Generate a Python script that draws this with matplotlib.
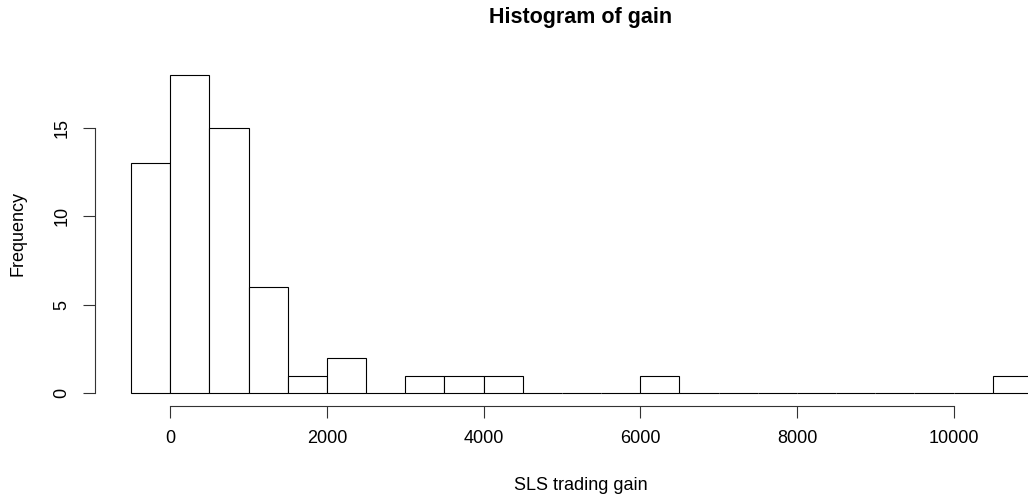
import matplotlib
matplotlib.use("Agg")
import matplotlib.pyplot as plt

# histogram of SLS trading gain, bins of 500
BREAKS = [-500, 0, 500, 1000, 1500, 2000, 2500, 3000, 3500, 4000, 4500,
          5000, 5500, 6000, 6500, 7000, 7500, 8000, 8500, 9000, 9500,
          10000, 10500, 11000]
COUNTS = [13, 18, 15, 6, 1, 2, 0, 1, 1, 1, 0,
          0, 0, 1, 0, 0, 0, 0, 0, 0, 0,
          0, 1]
XTICKS = [0, 2000, 4000, 6000, 8000, 10000]
YTICKS = [0, 5, 10, 15]

plt.rcParams["font.family"] = ["Liberation Sans", "DejaVu Sans"]

W, H = 1028, 501
fig = plt.figure(figsize=(W / 100, H / 100), dpi=100)
fig.patch.set_facecolor("white")

ax = fig.add_axes([95 / W, (H - 406) / H, (1068 - 95) / W, (406 - 62) / H])
ax.set_facecolor("none")

lefts = BREAKS[:-1]
widths = [b - a for a, b in zip(BREAKS[:-1], BREAKS[1:])]
ax.bar(lefts, COUNTS, width=widths, align="edge", facecolor="white",
       edgecolor="black", linewidth=0.8)

ax.set_xlim(-960, 11460)
ax.set_ylim(-0.72, 18.72)

for side in ("top", "right"):
    ax.spines[side].set_visible(False)
ax.spines["left"].set_bounds(0, 15)
ax.spines["bottom"].set_bounds(0, 10000)
for side in ("left", "bottom"):
    ax.spines[side].set_linewidth(0.8)
    ax.spines[side].set_color("#333333")

ax.set_xticks(XTICKS)
ax.set_xticklabels([str(t) for t in XTICKS])
ax.set_yticks(YTICKS)
ax.set_yticklabels([str(t) for t in YTICKS])
ax.tick_params(axis="both", length=8.5, width=0.8, color="#333333",
               labelsize=13, labelcolor="black")
ax.tick_params(axis="x", pad=9)
ax.tick_params(axis="y", pad=9)
for lab in ax.get_yticklabels():
    lab.set_rotation(90)
    lab.set_va("center")

fig.text(581 / W, 1 - 18 / H, "Histogram of gain", fontsize=15.5,
         fontweight="bold", ha="center", va="center")
fig.text(581 / W, 1 - 485 / H, "SLS trading gain", fontsize=13,
         ha="center", va="center")
fig.text(18 / W, 1 - 234 / H, "Frequency", fontsize=13, rotation=90,
         ha="center", va="center")

fig.savefig("out.png", dpi=100)
